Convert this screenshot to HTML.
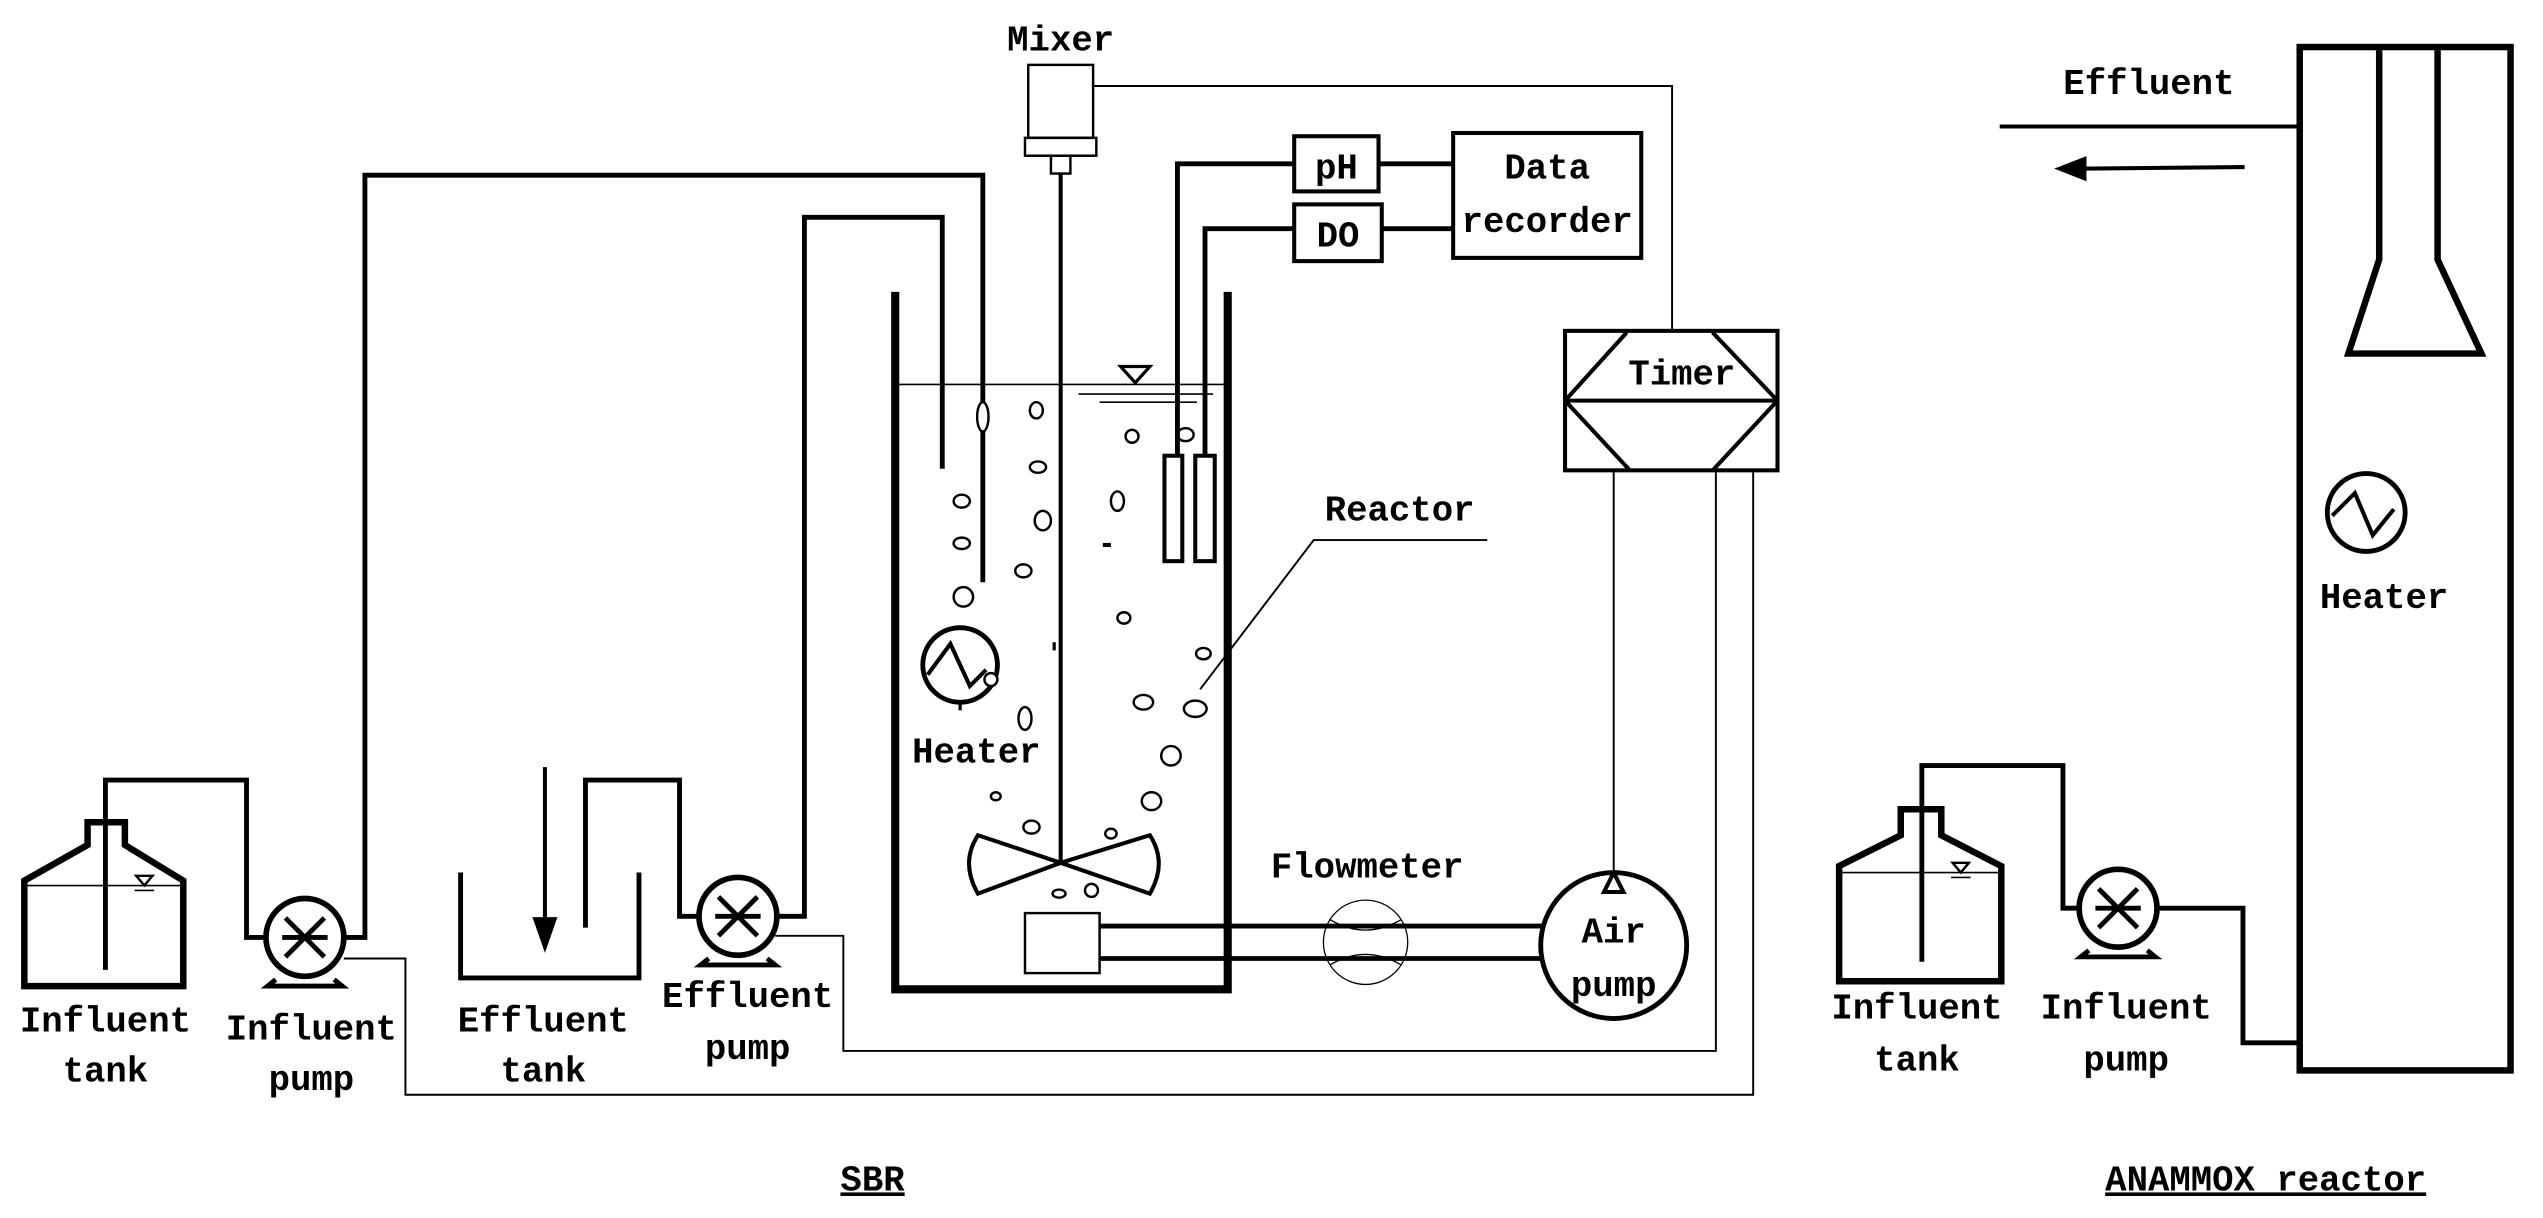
<!DOCTYPE html>
<html><head><meta charset="utf-8"><style>
html,body{margin:0;padding:0;background:#fff;}
svg{display:block;}
text{font-family:"Liberation Mono","DejaVu Sans Mono",monospace;fill:#000;text-anchor:middle;font-size:22px;}
</style></head><body>
<svg width="2543" height="1218" viewBox="0 0 1568 751" xmlns="http://www.w3.org/2000/svg">
<defs><marker id="ah" markerWidth="10" markerHeight="8" refX="9" refY="4" orient="auto" markerUnits="userSpaceOnUse"><path d="M0,0 L10,4 L0,8 Z" fill="#000"/></marker></defs>
<g fill="none" stroke="#000" stroke-linejoin="miter">
<!-- Left influent tank -->
<polygon points="15,608 15,543 54,521 54,507 77,507 77,521 113,543 113,608" stroke-width="4"/>
<line x1="15" y1="546" x2="113" y2="546" stroke-width="1"/>
<path d="M84,540 L94,540 L89,546 Z" stroke-width="1.5"/>
<line x1="83" y1="549" x2="95" y2="549" stroke-width="1"/>
<polyline points="65,598 65,481 152,481 152,578 164,578" stroke-width="3"/>
<!-- influent pump -->
<circle cx="188" cy="578" r="24" stroke-width="3.5"/>
<path d="M176,566 L200,590 M200,566 L176,590 M174,578 L202,578" stroke-width="3"/>
<path d="M170,604 L165,608 L211,608 L206,604" stroke-width="3"/>
<polyline points="212,578 225,578 225,108 606,108 606,359" stroke-width="3"/>
<ellipse cx="606" cy="257" rx="3.5" ry="9" stroke-width="1.5" fill="#fff"/>
<polyline points="212,591 250,591 250,675 1081,675 1081,290" stroke-width="1.2"/>
<!-- effluent tank -->
<polyline points="284,538 284,603 394,603 394,538" stroke-width="3"/>
<line x1="336" y1="473" x2="336" y2="575" stroke-width="2.5"/>
<path d="M329,566 L343,566 L336,586 Z" fill="#000"/>
<polyline points="361,572 361,481 419,481 419,565 431,565" stroke-width="3"/>
<circle cx="455" cy="565" r="24" stroke-width="3.5"/>
<path d="M443,553 L467,577 M467,553 L443,577 M441,565 L469,565" stroke-width="3"/>
<path d="M437,591 L432,595 L478,595 L473,591" stroke-width="3"/>
<polyline points="479,565 496,565 496,134 581,134 581,289" stroke-width="3"/>
<polyline points="478,577 520,577 520,648 1058,648 1058,290" stroke-width="1.2"/>
<!-- reactor -->
<polyline points="552,180 552,610 757,610 757,180" stroke-width="5"/>
<line x1="552" y1="237" x2="757" y2="237" stroke-width="1"/>
<path d="M691,226 L709,226 L700,236 Z" stroke-width="2"/>
<line x1="665" y1="243" x2="748" y2="243" stroke-width="1"/>
<line x1="678" y1="248" x2="738" y2="248" stroke-width="1"/>
<!-- mixer -->
<rect x="634" y="40" width="40" height="45" stroke-width="1.5"/>
<rect x="632" y="85" width="44" height="11" stroke-width="1.5"/>
<rect x="648" y="96" width="12" height="11" stroke-width="1.5"/>
<line x1="654" y1="107" x2="654" y2="532" stroke-width="2.5"/>
<polyline points="674,53 1031,53 1031,204" stroke-width="1.2"/>
<path d="M654,532 L603,515 Q592,532 603,551 Z M654,532 L709,515 Q720,532 709,551 Z" stroke-width="2.5"/>
<!-- bubbles -->
<g stroke-width="1.5">
<ellipse cx="639" cy="253" rx="4" ry="5"/><ellipse cx="640" cy="288" rx="5" ry="3.5"/><ellipse cx="643" cy="321" rx="5" ry="6"/>
<ellipse cx="631" cy="352" rx="5" ry="4"/><ellipse cx="593" cy="309" rx="5" ry="4"/><ellipse cx="593" cy="335" rx="5" ry="3.5"/>
<ellipse cx="594" cy="368" rx="6" ry="6"/><ellipse cx="698" cy="269" rx="4" ry="4"/><ellipse cx="689" cy="309" rx="4" ry="6"/>
<ellipse cx="693" cy="381" rx="4" ry="3.5"/><ellipse cx="742" cy="403" rx="4.5" ry="3.5"/><ellipse cx="705" cy="433" rx="6" ry="4.5"/>
<ellipse cx="737" cy="437" rx="7" ry="5"/><ellipse cx="632" cy="443" rx="4" ry="7"/><ellipse cx="722" cy="466" rx="6" ry="6"/>
<ellipse cx="710" cy="494" rx="6" ry="5.5"/><ellipse cx="614" cy="491" rx="3" ry="2.5"/><ellipse cx="636" cy="510" rx="5" ry="4"/>
<ellipse cx="685" cy="514" rx="3.5" ry="3"/><ellipse cx="653" cy="551" rx="4" ry="2.5"/><ellipse cx="673" cy="549" rx="4" ry="4"/>
<ellipse cx="731" cy="268" rx="5" ry="4"/>
</g>
<line x1="680" y1="336" x2="685" y2="336" stroke-width="2.5"/>
<line x1="650" y1="396" x2="650" y2="401" stroke-width="2"/>
<!-- SBR heater -->
<circle cx="592" cy="410" r="23" stroke-width="3"/>
<polyline points="572,416 586,397 598,423 608,413" stroke-width="2.5"/>
<circle cx="611" cy="419" r="4" stroke-width="1.5" fill="#fff"/>
<line x1="592" y1="433" x2="592" y2="438" stroke-width="2"/>
<!-- probes -->
<polyline points="799,101 726,101 726,281" stroke-width="3"/>
<polyline points="799,141 743,141 743,281" stroke-width="3"/>
<rect x="718" y="281" width="11" height="65" stroke-width="2.5"/>
<rect x="737" y="281" width="12" height="65" stroke-width="2.5"/>
<rect x="798" y="84" width="52" height="34" stroke-width="2.5"/>
<rect x="798" y="126" width="54" height="35" stroke-width="2.5"/>
<rect x="896" y="82" width="116" height="77" stroke-width="2.5"/>
<line x1="850" y1="101" x2="896" y2="101" stroke-width="3"/>
<line x1="852" y1="141" x2="896" y2="141" stroke-width="3"/>
<!-- timer -->
<rect x="965" y="204" width="131" height="86" stroke-width="2.5"/>
<line x1="965" y1="247" x2="1096" y2="247" stroke-width="2.5"/>
<path d="M965,247 L1003,205 M1056,205 L1096,247 M965,247 L1005,290 M1056,290 L1096,247" stroke-width="2.5"/>
<line x1="995" y1="290" x2="995" y2="538" stroke-width="1.2"/>
<!-- air pump -->
<circle cx="995" cy="583" r="45" stroke-width="3"/>
<path d="M989,550 L1001,550 L995,538 Z" stroke-width="2.5" fill="#fff"/>
<rect x="632" y="563" width="46" height="37" stroke-width="1.5"/>
<line x1="678" y1="571" x2="951" y2="571" stroke-width="3"/>
<line x1="678" y1="591" x2="950" y2="591" stroke-width="3"/>
<circle cx="842" cy="581" r="26" stroke-width="0.8"/>
<path d="M820,567 Q842,580 864,567 M820,595 Q842,582 864,595" stroke-width="0.8"/>
<!-- reactor label -->
<polyline points="740,425 810,333 917,333" stroke-width="1.2"/>
<!-- ANAMMOX reactor -->
<rect x="1418" y="29" width="130" height="631" stroke-width="4"/>
<polyline points="1467,31 1467,160 1448,218 1530,218 1503,160 1503,31" stroke-width="4"/>
<line x1="1418" y1="78" x2="1233" y2="78" stroke-width="2.5"/>
<line x1="1384" y1="103" x2="1280" y2="104" stroke-width="2.5"/>
<path d="M1268,104 L1286,97 L1286,111 Z" fill="#000"/>
<circle cx="1459" cy="316" r="24" stroke-width="3"/>
<polyline points="1438,318 1452,304 1463,330 1476,314" stroke-width="2.5"/>
<!-- right influent tank -->
<polygon points="1134,605 1134,534 1172,515 1172,499 1197,499 1197,515 1234,534 1234,605" stroke-width="4"/>
<line x1="1134" y1="538" x2="1234" y2="538" stroke-width="1"/>
<path d="M1204,532 L1214,532 L1209,538 Z" stroke-width="1.5"/>
<line x1="1203" y1="541" x2="1215" y2="541" stroke-width="1"/>
<polyline points="1185,593 1185,472 1272,472 1272,560 1282,560" stroke-width="3"/>
<circle cx="1306" cy="560" r="24" stroke-width="3.5"/>
<path d="M1294,548 L1318,572 M1318,548 L1294,572 M1292,560 L1320,560" stroke-width="3"/>
<path d="M1288,586 L1283,590 L1329,590 L1324,586" stroke-width="3"/>
<polyline points="1330,560 1383,560 1383,643 1418,643" stroke-width="3"/>
</g>
<!-- labels -->
<g font-weight="bold">
<text x="65" y="636">Influent</text><text x="65" y="667">tank</text>
<text x="192" y="641">Influent</text><text x="192" y="672">pump</text>
<text x="335" y="636">Effluent</text><text x="335" y="667">tank</text>
<text x="461" y="621">Effluent</text><text x="461" y="653">pump</text>
<text x="654" y="31">Mixer</text>
<text x="602" y="470">Heater</text>
<text x="824" y="110">pH</text>
<text x="825" y="152">DO</text>
<text x="954" y="110">Data</text><text x="954" y="143">recorder</text>
<text x="1037" y="237">Timer</text>
<text x="863" y="321">Reactor</text>
<text x="843" y="541">Flowmeter</text>
<text x="995" y="581">Air</text><text x="995" y="614">pump</text>
<text x="1325" y="58">Effluent</text>
<text x="1470" y="375">Heater</text>
<text x="1182" y="628">Influent</text><text x="1182" y="660">tank</text>
<text x="1311" y="628">Influent</text><text x="1311" y="660">pump</text>
<text x="538" y="734" text-decoration="underline">SBR</text>
<text x="1397" y="734" text-decoration="underline">ANAMMOX reactor</text>
</g>
</svg>
</body></html>
